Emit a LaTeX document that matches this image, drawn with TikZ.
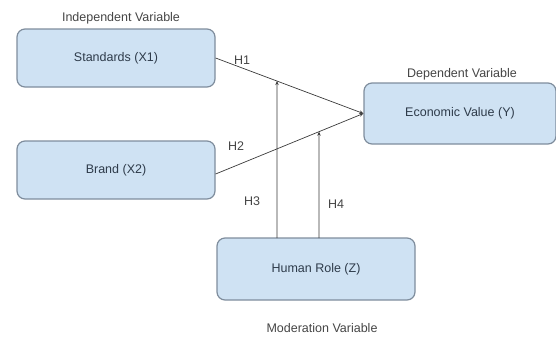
\documentclass[tikz,border=0pt]{standalone}
\usepackage{fontspec}
\setmainfont{Liberation Sans}
\usetikzlibrary{arrows.meta,intersections}
\definecolor{boxfill}{HTML}{CFE2F3}
\definecolor{boxline}{HTML}{7F8D9D}
\definecolor{boxtext}{HTML}{2E3B4A}
\definecolor{labtext}{HTML}{454545}
\definecolor{conn}{HTML}{3A3A3A}
\tikzset{
  varbox/.style={draw=boxline, line width=1.2pt, fill=boxfill, rounded corners=8pt,
    minimum width=198pt, minimum height=58pt, inner sep=0pt,
    font=\fontsize{12.5}{14}\selectfont, text=boxtext},
  lab/.style={font=\fontsize{12.5}{14}\selectfont, text=labtext, inner sep=0pt},
  conn/.style={draw=conn, line width=0.7pt, -{Stealth[length=4pt,width=3.5pt]}}
}
\begin{document}
\begin{tikzpicture}[x=1pt,y=-1pt]
\useasboundingbox (0,0) rectangle (556,338);
\node[varbox] (std) at (116,58) {Standards (X1)};
\node[varbox] (brand) at (116,170) {Brand (X2)};
\node[varbox, minimum width=192pt, minimum height=61pt] (eco) at (460,113.5) {Economic Value (Y)};
\node[varbox, minimum height=62pt] (hr) at (316,269) {Human Role (Z)};
\node[lab] (lindep) at (121,18) {Independent Variable};
\node[lab] (ldep) at (462,74) {Dependent Variable};
\node[lab] (lmod) at (322,328) {Moderation Variable};
\node[lab] (h1) at (242,60) {H1};
\node[lab] (h2) at (236,146) {H2};
\node[lab] (h3) at (252,201) {H3};
\node[lab] (h4) at (336,204) {H4};
\coordinate (b3) at (277,238);
\coordinate (b4) at (319,238);
\draw[conn, name path=l1] (std.east) -- (eco.west);
\draw[conn, name path=l2] ([yshift=-4pt]brand.east) -- (eco.west);
\path[name path=v1] (b3) -- (277,0);
\path[name path=v2] (b4) -- (319,0);
\path[name intersections={of=l1 and v1, by=i1}];
\path[name intersections={of=l2 and v2, by=i2}];
\draw[conn] (b3) -- (i1);
\draw[conn] (b4) -- (i2);
\end{tikzpicture}
\end{document}
